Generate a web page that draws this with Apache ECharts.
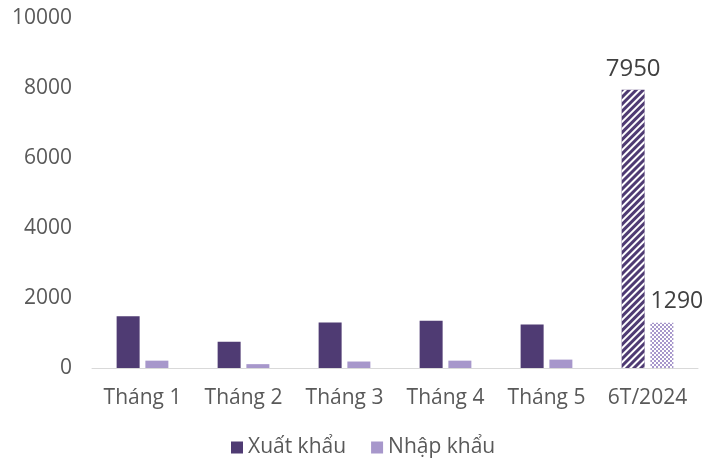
<!DOCTYPE html>
<html>
<head>
<meta charset="utf-8">
<script src="https://cdn.jsdelivr.net/npm/echarts@6/dist/echarts.min.js"></script>
<style>
  html, body { margin: 0; padding: 0; background: #fff; }
  #chart { width: 704px; height: 462px; }
</style>
</head>
<body>
<div id="chart"></div>
<script>
const categories = ['Tháng 1', 'Tháng 2', 'Tháng 3', 'Tháng 4', 'Tháng 5', '6T/2024'];
const exportValues = [1480, 750, 1300, 1350, 1240, 7950];
const importValues = [210, 110, 185, 210, 240, 1290];
const seriesNames = ['Xuất khẩu', 'Nhập khẩu'];

const EXPORT_COLOR = '#4f3b73';
const IMPORT_COLOR = '#a797cb';
const TEXT_COLOR = '#595959';
const FONT = 'Open Sans';

// last bar of each series is drawn with a pattern (total of 6 months)
function buildExport(values) {
  return values.map((v, i) => {
    if (i !== values.length - 1) return v;
    return {
      value: v,
      itemStyle: {
        color: EXPORT_COLOR,
        decal: {
          symbol: 'rect',
          color: '#ffffff',
          dashArrayX: [1, 0],
          dashArrayY: [2, 2.5],
          rotation: -Math.PI / 4
        }
      },
      label: {
        show: true,
        position: 'top',
        distance: 9,
        fontSize: 24,
        color: '#404040',
        fontFamily: FONT
      }
    };
  });
}

function buildImport(values) {
  return values.map((v, i) => {
    if (i !== values.length - 1) return v;
    return {
      value: v,
      itemStyle: {
        color: '#ffffff',
        decal: {
          symbol: 'rect',
          color: IMPORT_COLOR,
          symbolSize: 1,
          dashArrayX: [[2, 2], [0, 2, 2, 0]],
          dashArrayY: [2, 0]
        }
      },
      label: {
        show: true,
        position: 'top',
        distance: 10,
        offset: [15, 0],
        fontSize: 23,
        color: '#404040',
        fontFamily: FONT
      }
    };
  });
}

const chart = echarts.init(document.getElementById('chart'));
chart.setOption({
  animation: false,
  textStyle: { fontFamily: FONT },
  grid: { left: 92, right: 6, top: 18, bottom: 94, containLabel: false },
  legend: {
    top: 432,
    left: 226,
    itemWidth: 12,
    itemHeight: 12,
    itemGap: 25,
    itemStyle: { borderWidth: 0 },
    icon: 'rect',
    textStyle: { fontSize: 21, color: TEXT_COLOR, fontFamily: FONT },
    data: seriesNames
  },
  xAxis: {
    type: 'category',
    data: categories,
    axisTick: { show: false },
    axisLine: { lineStyle: { color: '#d9d9d9', width: 1 } },
    axisLabel: {
      interval: 0,
      hideOverlap: false,
      fontSize: 21,
      color: TEXT_COLOR,
      margin: 20,
      fontFamily: FONT
    }
  },
  yAxis: {
    type: 'value',
    min: 0,
    max: 10000,
    interval: 2000,
    splitLine: { show: false },
    axisLine: { show: false },
    axisTick: { show: false },
    axisLabel: {
      fontSize: 21,
      color: TEXT_COLOR,
      margin: 20,
      fontFamily: FONT,
      formatter: v => String(v)
    }
  },
  series: [
    {
      name: seriesNames[0],
      type: 'bar',
      barWidth: 23,
      barGap: '25%',
      itemStyle: { color: EXPORT_COLOR },
      data: buildExport(exportValues)
    },
    {
      name: seriesNames[1],
      type: 'bar',
      barWidth: 23,
      barGap: '25%',
      itemStyle: { color: IMPORT_COLOR },
      data: buildImport(importValues)
    }
  ]
});
</script>
</body>
</html>
